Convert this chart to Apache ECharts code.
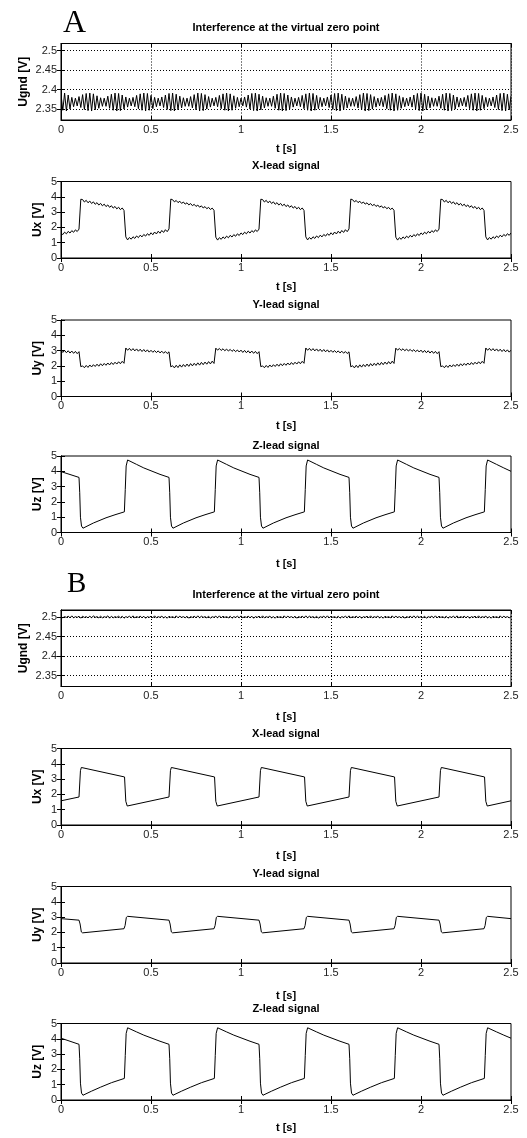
<!DOCTYPE html>
<html>
<head>
<meta charset="utf-8">
<script src="https://cdn.jsdelivr.net/npm/echarts@6/dist/echarts.min.js"></script>
<style>
html, body { margin: 0; padding: 0; background: #fff; }
#chart { width: 527px; height: 1138px; }
</style>
</head>
<body>
<div id="chart"></div>
<script>
// sampling step of the traces that carry the 50 Hz ripple
var dt = 0.01

var timeTicks = [0, 0.5, 1, 1.5, 2, 2.5]
var ugndTicks = [2.35, 2.4, 2.45, 2.5]
var leadTicks = [0, 1, 2, 3, 4, 5]

// A: interference at the virtual zero point, one value every dt
var ugndA = [
  2.388,2.347,2.391,2.345,2.386,2.350,2.380,2.356,2.378,2.358,
  2.382,2.354,2.387,2.349,2.390,2.346,2.391,2.345,2.389,2.348,
  2.384,2.352,2.379,2.357,2.378,2.357,2.383,2.352,2.388,2.347,
  2.391,2.345,2.390,2.346,2.386,2.350,2.381,2.355,2.378,2.358,
  2.380,2.356,2.385,2.351,2.389,2.347,2.391,2.345,2.390,2.347,
  2.385,2.351,2.380,2.356,2.378,2.358,2.381,2.354,2.386,2.349,
  2.390,2.346,2.391,2.345,2.388,2.348,2.383,2.353,2.379,2.357,
  2.378,2.357,2.382,2.353,2.387,2.348,2.391,2.345,2.390,2.346,
  2.387,2.350,2.382,2.355,2.378,2.358,2.380,2.356,2.385,2.351,
  2.389,2.347,2.391,2.345,2.389,2.347,2.384,2.352,2.380,2.356,
  2.378,2.358,2.381,2.355,2.386,2.350,2.390,2.346,2.391,2.345,
  2.388,2.348,2.383,2.353,2.379,2.357,2.378,2.357,2.383,2.352,
  2.388,2.347,2.391,2.345,2.390,2.346,2.386,2.350,2.381,2.355,
  2.378,2.358,2.380,2.356,2.385,2.351,2.389,2.347,2.391,2.345,
  2.390,2.347,2.385,2.351,2.380,2.356,2.378,2.358,2.381,2.354,
  2.386,2.349,2.390,2.346,2.391,2.345,2.388,2.348,2.383,2.353,
  2.379,2.357,2.378,2.357,2.382,2.353,2.387,2.348,2.391,2.345,
  2.390,2.346,2.387,2.350,2.382,2.355,2.378,2.358,2.380,2.356,
  2.385,2.351,2.389,2.347,2.391,2.345,2.389,2.347,2.384,2.352,
  2.380,2.356,2.378,2.358,2.381,2.355,2.386,2.350,2.390,2.346,
  2.391,2.345,2.388,2.348,2.383,2.353,2.379,2.357,2.378,2.357,
  2.383,2.352,2.388,2.347,2.391,2.345,2.390,2.346,2.386,2.350,
  2.381,2.355,2.378,2.358,2.380,2.356,2.385,2.351,2.389,2.347,
  2.391,2.345,2.390,2.347,2.385,2.351,2.380,2.356,2.378,2.358,
  2.381,2.354,2.386,2.349,2.390,2.346,2.391,2.345,2.388,2.348,
  2.383
]

// A: X-lead signal, one value every dt
var uxA = [
  1.64,1.53,1.69,1.58,1.74,1.63,1.79,1.68,1.84,1.73,
  1.89,3.84,3.82,3.66,3.77,3.61,3.72,3.56,3.67,3.51,
  3.62,3.46,3.57,3.41,3.52,3.36,3.47,3.31,3.42,3.26,
  3.37,3.21,3.32,3.16,3.27,3.11,1.38,1.18,1.34,1.23,
  1.39,1.28,1.44,1.33,1.49,1.38,1.54,1.43,1.59,1.48,
  1.65,1.52,1.70,1.57,1.75,1.62,1.80,1.67,1.85,1.72,
  1.90,3.85,3.81,3.67,3.76,3.62,3.71,3.57,3.66,3.52,
  3.61,3.47,3.56,3.42,3.51,3.37,3.46,3.32,3.41,3.27,
  3.36,3.22,3.31,3.17,3.26,3.12,1.36,1.17,1.33,1.22,
  1.38,1.27,1.43,1.32,1.48,1.37,1.53,1.42,1.58,1.47,
  1.64,1.53,1.69,1.58,1.74,1.63,1.79,1.68,1.84,1.73,
  1.89,3.84,3.82,3.66,3.77,3.61,3.72,3.56,3.67,3.51,
  3.62,3.46,3.57,3.41,3.52,3.36,3.47,3.31,3.42,3.26,
  3.37,3.21,3.32,3.16,3.27,3.11,1.38,1.18,1.34,1.23,
  1.39,1.28,1.44,1.33,1.49,1.38,1.54,1.43,1.59,1.48,
  1.65,1.52,1.70,1.57,1.75,1.62,1.80,1.67,1.85,1.72,
  1.90,3.85,3.81,3.67,3.76,3.62,3.71,3.57,3.66,3.52,
  3.61,3.47,3.56,3.42,3.51,3.37,3.46,3.32,3.41,3.27,
  3.36,3.22,3.31,3.17,3.26,3.12,1.36,1.17,1.33,1.22,
  1.38,1.27,1.43,1.32,1.48,1.37,1.53,1.42,1.58,1.47,
  1.64,1.53,1.69,1.58,1.74,1.63,1.79,1.68,1.84,1.73,
  1.89,3.84,3.82,3.66,3.77,3.61,3.72,3.56,3.67,3.51,
  3.62,3.46,3.57,3.41,3.52,3.36,3.47,3.31,3.42,3.26,
  3.37,3.21,3.32,3.16,3.27,3.11,1.38,1.18,1.34,1.23,
  1.39,1.28,1.44,1.33,1.49,1.38,1.54,1.43,1.59,1.48,
  1.64
]

// A: Y-lead signal, one value every dt
var uyA = [
  3.03,2.88,3.01,2.86,2.99,2.84,2.97,2.82,2.95,2.80,
  2.93,1.95,2.00,1.88,2.03,1.90,2.06,1.93,2.08,1.96,
  2.11,1.98,2.14,2.01,2.16,2.04,2.19,2.06,2.22,2.09,
  2.24,2.12,2.27,2.14,2.30,2.17,3.17,3.02,3.15,3.00,
  3.13,2.98,3.11,2.96,3.09,2.94,3.07,2.92,3.05,2.90,
  3.02,2.89,3.00,2.87,2.98,2.85,2.96,2.83,2.94,2.81,
  2.92,1.94,2.01,1.87,2.04,1.89,2.07,1.92,2.09,1.95,
  2.12,1.97,2.15,2.00,2.17,2.03,2.20,2.05,2.23,2.08,
  2.25,2.11,2.28,2.13,2.31,2.16,3.16,3.03,3.14,3.01,
  3.12,2.99,3.10,2.97,3.08,2.95,3.06,2.93,3.04,2.91,
  3.03,2.88,3.01,2.86,2.99,2.84,2.97,2.82,2.95,2.80,
  2.93,1.95,2.00,1.88,2.03,1.90,2.06,1.93,2.08,1.96,
  2.11,1.98,2.14,2.01,2.16,2.04,2.19,2.06,2.22,2.09,
  2.24,2.12,2.27,2.14,2.30,2.17,3.17,3.02,3.15,3.00,
  3.13,2.98,3.11,2.96,3.09,2.94,3.07,2.92,3.05,2.90,
  3.02,2.89,3.00,2.87,2.98,2.85,2.96,2.83,2.94,2.81,
  2.92,1.94,2.01,1.87,2.04,1.89,2.07,1.92,2.09,1.95,
  2.12,1.97,2.15,2.00,2.17,2.03,2.20,2.05,2.23,2.08,
  2.25,2.11,2.28,2.13,2.31,2.16,3.16,3.03,3.14,3.01,
  3.12,2.99,3.10,2.97,3.08,2.95,3.06,2.93,3.04,2.91,
  3.03,2.88,3.01,2.86,2.99,2.84,2.97,2.82,2.95,2.80,
  2.93,1.95,2.00,1.88,2.03,1.90,2.06,1.93,2.08,1.96,
  2.11,1.98,2.14,2.01,2.16,2.04,2.19,2.06,2.22,2.09,
  2.24,2.12,2.27,2.14,2.30,2.17,3.17,3.02,3.15,3.00,
  3.13,2.98,3.11,2.96,3.09,2.94,3.07,2.92,3.05,2.90,
  3.03
]

// A: Z-lead signal, [t, U] read at the corners of the trace
var uzA = [
  [0,3.98],[0.10,3.60],[0.104,2.60],[0.108,1.00],[0.114,0.42],[0.122,0.28],[0.18,0.62],[0.25,0.96],[0.30,1.16],[0.352,1.35],[0.357,2.80],[0.362,4.35],[0.37,4.74],[0.42,4.45],[0.46,4.22],[0.55,3.80],
  [0.60,3.60],[0.604,2.60],[0.608,1.00],[0.614,0.42],[0.622,0.28],[0.68,0.62],[0.75,0.96],[0.80,1.16],[0.852,1.35],[0.857,2.80],[0.862,4.35],[0.87,4.74],[0.92,4.45],[0.96,4.22],[1.05,3.80],
  [1.10,3.60],[1.104,2.60],[1.108,1.00],[1.114,0.42],[1.122,0.28],[1.18,0.62],[1.25,0.96],[1.30,1.16],[1.352,1.35],[1.357,2.80],[1.362,4.35],[1.37,4.74],[1.42,4.45],[1.46,4.22],[1.55,3.80],
  [1.60,3.60],[1.604,2.60],[1.608,1.00],[1.614,0.42],[1.622,0.28],[1.68,0.62],[1.75,0.96],[1.80,1.16],[1.852,1.35],[1.857,2.80],[1.862,4.35],[1.87,4.74],[1.92,4.45],[1.96,4.22],[2.05,3.80],
  [2.10,3.60],[2.104,2.60],[2.108,1.00],[2.114,0.42],[2.122,0.28],[2.18,0.62],[2.25,0.96],[2.30,1.16],[2.352,1.35],[2.357,2.80],[2.362,4.35],[2.37,4.74],[2.42,4.45],[2.46,4.22],[2.50,4.00]
]

// B: interference at the virtual zero point, one value every dt
var ugndB = [
  2.502,2.498,2.501,2.499,2.502,2.498,2.503,2.498,2.501,2.499,
  2.502,2.497,2.502,2.499,2.501,2.498,2.502,2.498,2.503,2.499,
  2.501,2.498,2.502,2.498,2.501,2.499,2.503,2.497,2.502,2.498,
  2.501,2.499,2.502,2.498,2.502,2.497,2.501,2.499,2.502,2.498,
  2.503,2.498,2.501,2.499,2.502,2.498,2.502,2.497,2.501,2.499,
  2.502,2.498,2.503,2.498,2.501,2.499,2.502,2.498,2.501,2.497,
  2.502,2.499,2.501,2.498,2.503,2.498,2.502,2.499,2.501,2.498,
  2.502,2.497,2.501,2.499,2.502,2.498,2.503,2.498,2.502,2.499,
  2.501,2.498,2.502,2.497,2.501,2.499,2.502,2.498,2.503,2.498,
  2.502,2.499,2.501,2.498,2.502,2.497,2.501,2.499,2.502,2.498,
  2.503,2.498,2.501,2.499,2.502,2.498,2.502,2.497,2.501,2.499,
  2.502,2.498,2.503,2.498,2.501,2.499,2.502,2.498,2.501,2.497,
  2.502,2.499,2.501,2.498,2.503,2.498,2.502,2.499,2.501,2.498,
  2.502,2.497,2.501,2.499,2.502,2.498,2.503,2.498,2.502,2.499,
  2.501,2.498,2.502,2.497,2.501,2.499,2.502,2.498,2.503,2.498,
  2.502,2.499,2.501,2.498,2.502,2.497,2.501,2.499,2.502,2.498,
  2.503,2.498,2.501,2.499,2.502,2.498,2.502,2.497,2.501,2.499,
  2.502,2.498,2.503,2.498,2.501,2.499,2.502,2.498,2.501,2.497,
  2.502,2.499,2.501,2.498,2.503,2.498,2.502,2.499,2.501,2.498,
  2.502,2.497,2.501,2.499,2.502,2.498,2.503,2.498,2.502,2.499,
  2.501,2.498,2.502,2.497,2.501,2.499,2.502,2.498,2.503,2.498,
  2.502,2.499,2.501,2.498,2.502,2.497,2.501,2.499,2.502,2.498,
  2.503,2.498,2.501,2.499,2.502,2.498,2.502,2.497,2.501,2.499,
  2.502,2.498,2.503,2.498,2.501,2.499,2.502,2.498,2.501,2.497,
  2.502,2.499,2.501,2.498,2.503,2.498,2.502,2.499,2.501,2.498,
  2.501
]

// B: X-lead signal, [t, U]
var uxB = [
  [0,1.58],[0.10,1.83],[0.108,3.55],[0.113,3.76],[0.353,3.14],[0.36,1.55],[0.368,1.24],
  [0.60,1.83],[0.608,3.55],[0.613,3.76],[0.853,3.14],[0.86,1.55],[0.868,1.24],
  [1.10,1.83],[1.108,3.55],[1.113,3.76],[1.353,3.14],[1.36,1.55],[1.368,1.24],
  [1.60,1.83],[1.608,3.55],[1.613,3.76],[1.853,3.14],[1.86,1.55],[1.868,1.24],
  [2.10,1.83],[2.108,3.55],[2.113,3.76],[2.353,3.14],[2.36,1.55],[2.368,1.24],[2.50,1.58]
]

// B: Y-lead signal, [t, U]
var uyB = [
  [0,2.90],[0.10,2.80],[0.106,2.55],[0.113,2.03],[0.12,1.97],[0.35,2.24],[0.356,2.45],[0.363,2.98],[0.37,3.05],
  [0.60,2.80],[0.606,2.55],[0.613,2.03],[0.62,1.97],[0.85,2.24],[0.856,2.45],[0.863,2.98],[0.87,3.05],
  [1.10,2.80],[1.106,2.55],[1.113,2.03],[1.12,1.97],[1.35,2.24],[1.356,2.45],[1.363,2.98],[1.37,3.05],
  [1.60,2.80],[1.606,2.55],[1.613,2.03],[1.62,1.97],[1.85,2.24],[1.856,2.45],[1.863,2.98],[1.87,3.05],
  [2.10,2.80],[2.106,2.55],[2.113,2.03],[2.12,1.97],[2.35,2.24],[2.356,2.45],[2.363,2.98],[2.37,3.05],[2.50,2.90]
]

// B: Z-lead signal, [t, U]
var uzB = [
  [0,4.04],[0.10,3.64],[0.104,2.70],[0.108,1.10],[0.114,0.45],[0.122,0.31],[0.17,0.58],[0.22,0.84],[0.28,1.13],[0.352,1.41],[0.357,2.90],[0.362,4.35],[0.37,4.72],[0.42,4.45],[0.46,4.24],[0.55,3.84],
  [0.60,3.64],[0.604,2.70],[0.608,1.10],[0.614,0.45],[0.622,0.31],[0.67,0.58],[0.72,0.84],[0.78,1.13],[0.852,1.41],[0.857,2.90],[0.862,4.35],[0.87,4.72],[0.92,4.45],[0.96,4.24],[1.05,3.84],
  [1.10,3.64],[1.104,2.70],[1.108,1.10],[1.114,0.45],[1.122,0.31],[1.17,0.58],[1.22,0.84],[1.28,1.13],[1.352,1.41],[1.357,2.90],[1.362,4.35],[1.37,4.72],[1.42,4.45],[1.46,4.24],[1.55,3.84],
  [1.60,3.64],[1.604,2.70],[1.608,1.10],[1.614,0.45],[1.622,0.31],[1.67,0.58],[1.72,0.84],[1.78,1.13],[1.852,1.41],[1.857,2.90],[1.862,4.35],[1.87,4.72],[1.92,4.45],[1.96,4.24],[2.05,3.84],
  [2.10,3.64],[2.104,2.70],[2.108,1.10],[2.114,0.45],[2.122,0.31],[2.17,0.58],[2.22,0.84],[2.28,1.13],[2.352,1.41],[2.357,2.90],[2.362,4.35],[2.37,4.72],[2.42,4.45],[2.46,4.24],[2.50,4.04]
]

function sampled(vals) {
  return vals.map(function (v, i) { return [+(i * dt).toFixed(2), v] })
}

var TITLE_GND = 'Interference at the virtual zero point'
var panels = [
  { top: 43.5,  title: TITLE_GND,       titleY: 28,   yName: 'Ugnd [V]', gnd: true, xGap: 23, data: sampled(ugndA) },
  { top: 181.5, title: 'X-lead signal', titleY: 166,  yName: 'Ux [V]', xGap: 23, data: sampled(uxA) },
  { top: 320,   title: 'Y-lead signal', titleY: 305,  yName: 'Uy [V]', xGap: 24, data: sampled(uyA) },
  { top: 456,   title: 'Z-lead signal', titleY: 446,  yName: 'Uz [V]', xGap: 26, data: uzA },
  { top: 610,   title: TITLE_GND,       titleY: 595,  yName: 'Ugnd [V]', gnd: true, xGap: 25, data: sampled(ugndB) },
  { top: 748.5, title: 'X-lead signal', titleY: 734,  yName: 'Ux [V]', xGap: 25, data: uxB },
  { top: 886.5, title: 'Y-lead signal', titleY: 874,  yName: 'Uy [V]', xGap: 27, data: uyB },
  { top: 1023.5,title: 'Z-lead signal', titleY: 1009, yName: 'Uz [V]', xGap: 22, data: uzB }
]

var FONT = '"Liberation Sans", Arial, sans-serif'
var grids = [], xAxes = [], yAxes = [], series = []
var graphics = [
  { type: 'text', x: 63, y: 40, style: { text: 'A', font: '32px "Liberation Serif", serif', fill: '#000', textVerticalAlign: 'bottom', verticalAlign: 'bottom' } },
  { type: 'text', x: 67, y: 599, style: { text: 'B', font: '29px "Liberation Serif", serif', fill: '#000', textVerticalAlign: 'bottom', verticalAlign: 'bottom' } }
]

// the trace is drawn as one polyline so the 2 px ripple is not merged away
function trace(i, pts) {
  return {
    type: 'custom', xAxisIndex: i * 2, yAxisIndex: i * 2,
    data: pts, encode: { x: 0, y: 1 }, silent: true, clip: true,
    renderItem: function (params, api) {
      if (params.dataIndex !== 0) return null
      return {
        type: 'polyline',
        shape: { points: pts.map(function (d) { return api.coord(d) }) },
        style: { stroke: '#000', lineWidth: 1, fill: 'none' }
      }
    }
  }
}

panels.forEach(function (p, i) {
  grids.push({
    left: 61, right: 16, top: p.top, height: 76.5,
    show: true, borderColor: '#000', borderWidth: 1,
    outerBoundsMode: 'none', containLabel: false
  })
  var dotted = { show: !!p.gnd, lineStyle: { color: '#000', width: 1, type: [1, 2] } }
  var tick = { show: true, inside: true, length: 4, lineStyle: { color: '#000' } }
  xAxes.push({
    gridIndex: i, type: 'value', position: 'bottom', min: 0, max: 2.5, interval: 0.5,
    axisLine: { show: true, lineStyle: { color: '#000' } },
    axisTick: tick,
    axisLabel: { fontSize: 11, color: '#222', margin: 4, fontFamily: FONT },
    splitLine: dotted,
    name: 't [s]', nameLocation: 'middle', nameGap: p.xGap,
    nameTextStyle: { fontSize: 11, fontWeight: 'bold', color: '#000', fontFamily: FONT }
  })
  xAxes.push({
    gridIndex: i, type: 'value', position: 'top', min: 0, max: 2.5, interval: 0.5,
    axisLine: { show: true, lineStyle: { color: '#000' } },
    axisTick: tick, axisLabel: { show: false }, splitLine: { show: false }
  })
  var yRange = p.gnd
    ? { min: 2.322, max: 2.518 }
    : { min: 0, max: 5, interval: 1 }
  var yTick = p.gnd ? Object.assign({ customValues: ugndTicks }, tick) : tick
  var yLabel = { fontSize: 11, color: '#222', margin: 4, fontFamily: FONT }
  if (p.gnd) yLabel.customValues = ugndTicks
  var ySplit = p.gnd ? Object.assign({ customValues: ugndTicks }, dotted) : { show: false }
  yAxes.push(Object.assign({
    gridIndex: i, type: 'value', position: 'left',
    axisLine: { show: true, lineStyle: { color: '#000' } },
    axisTick: yTick, axisLabel: yLabel, splitLine: ySplit,
    name: p.yName, nameLocation: 'middle', nameRotate: 90, nameMoveOverlap: false,
    nameGap: p.gnd ? 31 : 17,
    nameTextStyle: { fontSize: 12, fontWeight: 'bold', color: '#000', fontFamily: FONT }
  }, yRange))
  yAxes.push(Object.assign({
    gridIndex: i, type: 'value', position: 'right',
    axisLine: { show: true, lineStyle: { color: '#000' } },
    axisTick: yTick, axisLabel: { show: false }, splitLine: { show: false }
  }, yRange))
  series.push(trace(i, p.data))
  graphics.push({
    type: 'text', x: 286, y: p.titleY,
    style: { text: p.title, font: 'bold 11px ' + FONT, fill: '#000',
      textAlign: 'center', align: 'center', textVerticalAlign: 'middle', verticalAlign: 'middle' }
  })
})

var myChart = echarts.init(document.getElementById('chart'), null, { renderer: 'canvas' })
myChart.setOption({
  animation: false,
  backgroundColor: '#fff',
  grid: grids,
  xAxis: xAxes,
  yAxis: yAxes,
  series: series,
  graphic: graphics
})
</script>
</body>
</html>
